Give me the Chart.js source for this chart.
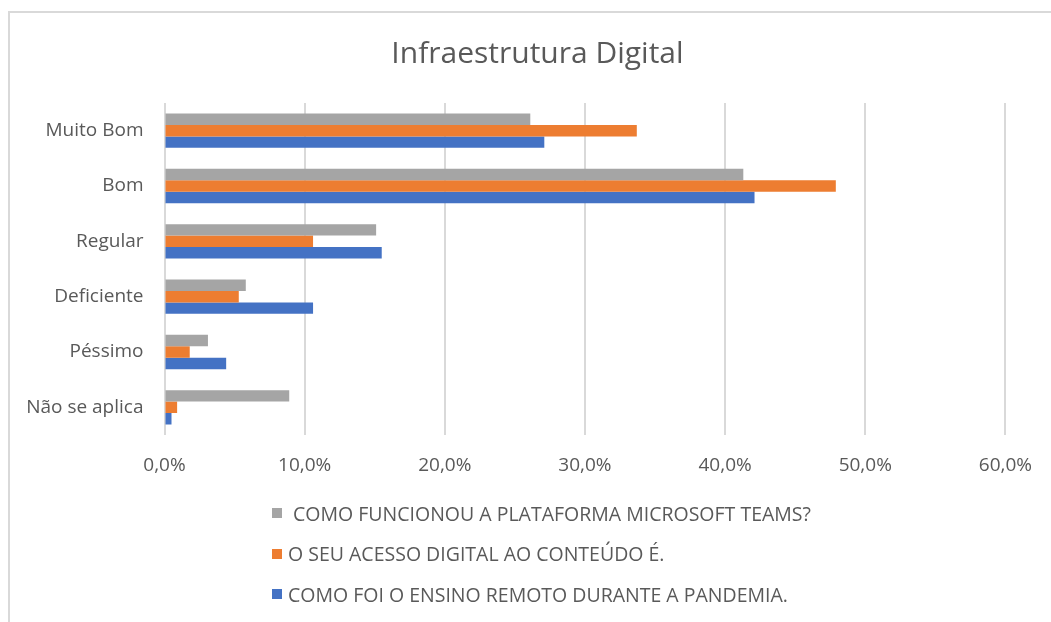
<!DOCTYPE html>
<html>
<head>
<meta charset="utf-8">
<script src="https://cdn.jsdelivr.net/npm/chart.js@4"></script>
<style>
  html, body { margin: 0; padding: 0; background: #fff; }
  #wrap { position: relative; width: 1051px; height: 622px; overflow: hidden; }
  #frame { position: absolute; left: 8px; top: 11px; right: -4px; bottom: -4px; border: 2px solid #d9d9d9; }
  #c { position: absolute; left: 0; top: 0; }
  #title { position: absolute; left: 0; top: 32px; width: 1075px; text-align: center; font-family: "Open Sans", Lato, sans-serif; font-size: 30px; line-height: 40px; color: #595959; white-space: pre; }
  #legend { position: absolute; left: 272px; top: 499px; font-family: "Open Sans", Lato, sans-serif; font-size: 19.5px; color: #595959; }
  #legend .item { display: flex; align-items: center; height: 28px; margin-bottom: 12.5px; white-space: pre; }
  #legend .box { width: 10px; height: 10px; margin-right: 6px; flex: none; }
</style>
</head>
<body>
<div id="wrap">
  <div id="frame"></div>
  <canvas id="c" width="1051" height="622"></canvas>
  <div id="title"></div>
  <div id="legend"></div>
</div>
<script>
const title = "Infraestrutura Digital";
const categories = ["Muito Bom", "Bom", "Regular", "Deficiente", "Péssimo", "Não se aplica"];
const seriesNames = [
  " COMO FUNCIONOU A PLATAFORMA MICROSOFT TEAMS?",
  "O SEU ACESSO DIGITAL AO CONTEÚDO É.",
  "COMO FOI O ENSINO REMOTO DURANTE A PANDEMIA."
];
const teamsValues   = [26.1, 41.3, 15.1, 5.8, 3.1, 8.9];
const acessoValues  = [33.7, 47.9, 10.6, 5.3, 1.8, 0.9];
const ensinoValues  = [27.1, 42.1, 15.5, 10.6, 4.4, 0.5];
const xTicks = [0, 10, 20, 30, 40, 50, 60];
const colors = ["#a5a5a5", "#ed7d31", "#4472c4"];

const txt = "#595959";
const fontFam = "'Open Sans', Lato, sans-serif";

document.getElementById("title").textContent = title;

const chart = new Chart(document.getElementById("c"), {
  type: "bar",
  data: {
    labels: categories,
    datasets: [teamsValues, acessoValues, ensinoValues].map((d, i) => ({
      label: seriesNames[i],
      data: d,
      backgroundColor: colors[i],
      borderWidth: 0,
      barPercentage: 1.0,
      categoryPercentage: 0.62
    }))
  },
  options: {
    indexAxis: "y",
    responsive: false,
    animation: false,
    layout: { padding: { left: 0, right: 41, top: 103, bottom: 137 } },
    plugins: {
      legend: { display: false },
      tooltip: { enabled: false },
      title: { display: false }
    },
    scales: {
      x: {
        min: 0, max: 60,
        afterBuildTicks: (s) => { s.ticks = xTicks.map(v => ({ value: v })); },
        afterFit: (s) => { s.height = 50; },
        grid: { color: "#d9d9d9", lineWidth: 2, drawTicks: false },
        border: { display: false },
        ticks: {
          color: txt,
          padding: 19,
          font: { family: fontFam, size: 19 },
          callback: (v) => v.toFixed(1).replace(".", ",") + "%"
        }
      },
      y: {
        afterFit: (s) => { s.width = 164.5; },
        grid: { display: false, drawTicks: false },
        border: { display: false },
        ticks: {
          color: txt,
          padding: 21,
          font: { family: fontFam, size: 19 }
        }
      }
    }
  }
});

const leg = document.getElementById("legend");
chart.data.datasets.forEach((ds) => {
  const item = document.createElement("div");
  item.className = "item";
  const box = document.createElement("span");
  box.className = "box";
  box.style.background = ds.backgroundColor;
  const t = document.createElement("span");
  t.textContent = ds.label;
  item.appendChild(box);
  item.appendChild(t);
  leg.appendChild(item);
});
</script>
</body>
</html>
